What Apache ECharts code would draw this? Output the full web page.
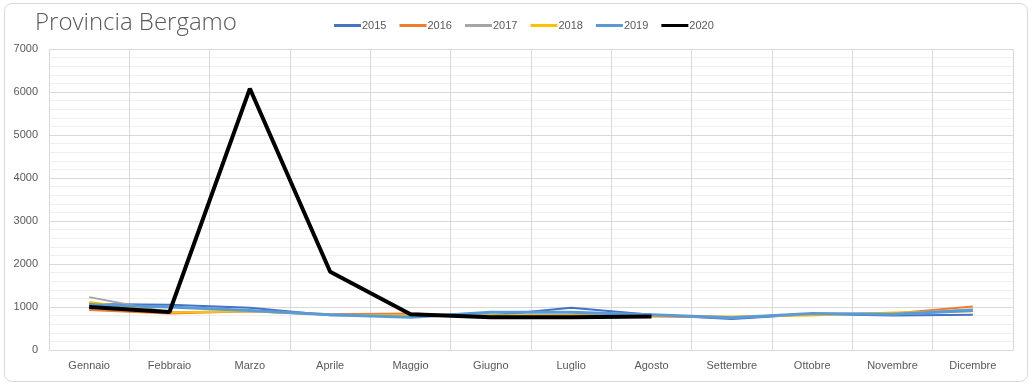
<!DOCTYPE html>
<html><head><meta charset="utf-8">
<script src="https://cdn.jsdelivr.net/npm/echarts@6/dist/echarts.min.js"></script>
<style>
html,body{margin:0;padding:0;background:#fff;}
#frame{position:absolute;left:4px;top:3px;width:1022px;height:377px;border:1px solid #d9d9d9;border-radius:8px;}
#c{position:absolute;left:0;top:0;width:1033px;height:386px;}
</style></head>
<body><div id="frame"></div><div id="c"></div>
<script>
const months = ['Gennaio','Febbraio','Marzo','Aprile','Maggio','Giugno','Luglio','Agosto','Settembre','Ottobre','Novembre','Dicembre'];
const y2015 = [1070,1050,980,810,800,800,980,820,720,840,800,820];
const y2016 = [930,850,900,830,850,780,820,780,760,830,850,1010];
const y2017 = [1230,880,900,820,800,800,810,800,760,830,850,950];
const y2018 = [1115,870,900,820,800,800,800,800,780,800,870,900];
const y2019 = [1050,1000,920,820,760,880,880,820,750,850,830,920];
const y2020 = [1000,884,6080,1820,830,760,760,780];
const yTicks = [0,1000,2000,3000,4000,5000,6000,7000];

const names = ['2015','2016','2017','2018','2019','2020'];
const data = [y2015,y2016,y2017,y2018,y2019,y2020];
const colors = ['#4472C4','#ED7D31','#A5A5A5','#FFC000','#5B9BD5','#000000'];
const widths = [2,2,2,2,3,4];

const chart = echarts.init(document.getElementById('c'));
chart.setOption({
  animation:false,
  title:{text:'Provincia Bergamo',left:30,top:6,textStyle:{fontFamily:'Open Sans',fontWeight:300,fontSize:24,color:'#595959'}},
  legend:{left:329,top:15,itemWidth:27,itemHeight:3,itemGap:13,icon:'rect',
    textStyle:{fontFamily:'Liberation Sans',fontSize:11,color:'#595959',padding:[0,0,0,-4]},
    data:names},
  grid:{left:49,right:20,top:49,bottom:36},
  xAxis:{type:'category',data:months,boundaryGap:true,
    axisLine:{lineStyle:{color:'#d9d9d9'}},axisTick:{show:false},
    axisLabel:{fontFamily:'Liberation Sans',fontSize:11,color:'#595959',margin:10},
    splitLine:{show:true,lineStyle:{color:'#d9d9d9'}}},
  yAxis:{type:'value',min:0,max:7000,interval:1000,
    axisLine:{show:false},axisTick:{show:false},
    axisLabel:{fontFamily:'Liberation Sans',fontSize:11,color:'#595959',margin:11,
      formatter:v=>yTicks.includes(v)?String(v):''},
    splitLine:{lineStyle:{color:'#d9d9d9'}},
    minorTick:{show:false,splitNumber:5},
    minorSplitLine:{show:true,lineStyle:{color:'#efefef'}}},
  series:names.map((n,i)=>({name:n,type:'line',data:data[i],showSymbol:false,symbol:'none',
    lineStyle:{color:colors[i],width:widths[i]},itemStyle:{color:colors[i]},z:i+2}))
});
</script></body></html>
